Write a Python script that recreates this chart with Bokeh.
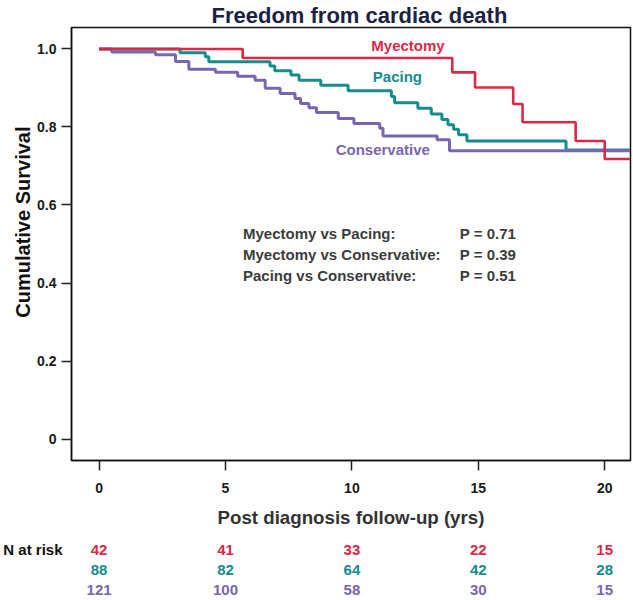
from bokeh.plotting import figure
from bokeh.models import Range1d, FixedTicker, Title
from bokeh.layouts import column
from bokeh.core.properties import value
from bokeh.embed import file_html
from bokeh.resources import INLINE

# ---------------- data ----------------
groups = ["Myectomy", "Pacing", "Conservative"]

myectomy_t = [0, 5.68, 13.97, 14.87, 16.38, 16.75, 18.85, 20.0, 21.0]
myectomy_s = [1.0, 0.977, 0.940, 0.901, 0.859, 0.812, 0.764, 0.718, 0.718]

pacing_t = [0, 3.2, 4.2, 4.34, 6.76, 6.95, 7.59, 7.91, 8.77, 9.85, 11.56, 11.69,
            12.61, 13.14, 13.56, 13.80, 14.02, 14.22, 14.55, 18.47, 21.0]
pacing_s = [1.0, 0.990, 0.980, 0.967, 0.956, 0.944, 0.933, 0.920, 0.907, 0.893,
            0.878, 0.862, 0.848, 0.833, 0.819, 0.806, 0.794, 0.780, 0.764, 0.741, 0.741]

conservative_t = [0, 0.50, 2.23, 3.02, 3.55, 4.60, 5.48, 6.17, 6.57, 7.16, 7.75,
                  7.97, 8.30, 8.60, 9.46, 10.08, 11.10, 11.23, 13.37, 13.86, 21.0]
conservative_s = [1.0, 0.992, 0.985, 0.968, 0.948, 0.940, 0.930, 0.920, 0.899, 0.886,
                  0.873, 0.860, 0.849, 0.837, 0.822, 0.809, 0.797, 0.777, 0.767, 0.739, 0.739]

risk_times = [0, 5, 10, 15, 20]
risk_myectomy = [42, 41, 33, 22, 15]
risk_pacing = [88, 82, 64, 42, 28]
risk_conservative = [121, 100, 58, 30, 15]

comparisons = ["Myectomy vs Pacing:", "Myectomy vs Conservative:", "Pacing vs Conservative:"]
p_values = [0.71, 0.39, 0.51]

x_ticks = [0, 5, 10, 15, 20]
y_ticks = [0, 0.2, 0.4, 0.6, 0.8, 1.0]
y_tick_labels = ["0", "0.2", "0.4", "0.6", "0.8", "1.0"]

# ---------------- style / layout constants ----------------
colors = ["#dc2846", "#178c8c", "#7866b0"]
widths = [2.6, 3, 3]
FONT = "Liberation Sans"
W = 633
H_MAIN = 530
H_TAB = 70
BL, BR = 69, 3
X0, X1 = -1.092, 21.02

label_x = [12.22, 11.8, 11.22]
label_y = [1.01, 0.929, 0.742]
cmp_x, pv_x = 5.69, 14.27
cmp_y = [0.527, 0.473, 0.420]

# ---------------- main plot ----------------
p = figure(width=W, height=H_MAIN, x_range=Range1d(X0, X1), y_range=Range1d(-0.055, 1.055),
           output_backend="svg", toolbar_location=None,
           min_border_left=BL, min_border_right=BR, min_border_top=0, min_border_bottom=0)
p.title.text = "Freedom from cardiac death"
p.title.text_font = FONT
p.title.text_font_size = "22px"
p.title.text_font_style = "bold"
p.title.text_color = "#1b2242"
p.title.align = "left"
p.title.offset = 140
p.title.standoff = 0
p.title.text_line_height = 1.0

p.grid.visible = False
p.outline_line_color = "#111111"
p.outline_line_width = 1.5
p.background_fill_color = "white"
p.border_fill_color = "white"

p.xaxis.ticker = FixedTicker(ticks=x_ticks)
p.yaxis.ticker = FixedTicker(ticks=y_ticks)
p.yaxis.major_label_overrides = dict(zip(y_ticks, y_tick_labels))
for ax in (p.xaxis[0], p.yaxis[0]):
    ax.major_tick_out = 10
    ax.major_tick_in = 0
    ax.minor_tick_out = 0
    ax.minor_tick_in = 0
    ax.major_tick_line_width = 1.5
    ax.major_tick_line_color = "#222222"
    ax.axis_line_width = 1.5
    ax.axis_line_color = "#111111"
    ax.major_label_text_font = FONT
    ax.major_label_text_font_size = "14px"
    ax.major_label_text_font_style = "bold"
    ax.major_label_text_color = "#1a1a1a"
p.xaxis.major_label_standoff = 12
p.yaxis.major_label_standoff = 5
p.xaxis.axis_label = "Post diagnosis follow-up (yrs)"
p.xaxis.axis_label_text_font = FONT
p.xaxis.axis_label_text_font_size = "18.7px"
p.xaxis.axis_label_text_font_style = "bold"
p.xaxis.axis_label_text_color = "#333333"
p.xaxis.axis_label_standoff = 11

ylab = Title(text="Cumulative Survival", align="right", offset=99, text_font=FONT,
             text_font_size="20px", text_font_style="bold", text_color="#111111", standoff=2)
p.add_layout(ylab, "left")

series = [(pacing_t, pacing_s, 1), (conservative_t, conservative_s, 2), (myectomy_t, myectomy_s, 0)]
for t_, s_, i in series:
    p.step(t_, s_, mode="after", line_color=colors[i], line_width=widths[i])

p.text(x=label_x, y=label_y, text=groups, text_color=colors, text_align="center",
       text_baseline="middle", text_font=value(FONT), text_font_style="bold", text_font_size="15px")

p.text(x=[cmp_x] * 3, y=cmp_y, text=comparisons, text_color="#3c3c3c", text_align="left",
       text_baseline="alphabetic", text_font=value(FONT), text_font_style="bold", text_font_size="15px")
p.text(x=[pv_x] * 3, y=cmp_y, text=["P = %.2f" % v for v in p_values], text_color="#3c3c3c",
       text_align="left", text_baseline="alphabetic", text_font=value(FONT),
       text_font_style="bold", text_font_size="15px")

# ---------------- number-at-risk table (frames aligned by the column layout) ----------------
t = figure(width=W, height=H_TAB, x_range=p.x_range, y_range=Range1d(2.494, -0.963),
           output_backend="svg", toolbar_location=None, x_axis_location=None,
           y_axis_location="left", min_border_left=BL, min_border_right=BR,
           min_border_top=0, min_border_bottom=0)
t.grid.visible = False
t.outline_line_color = None
t.background_fill_color = "white"
t.border_fill_color = "white"
t.yaxis.ticker = FixedTicker(ticks=[0])
t.yaxis.major_label_overrides = {0: "N at risk"}
t.yaxis.axis_line_color = None
t.yaxis.major_tick_line_color = None
t.yaxis.minor_tick_line_color = None
t.yaxis.major_tick_out = 0
t.yaxis.major_tick_in = 0
t.yaxis.major_label_standoff = 9
t.yaxis.major_label_text_font = FONT
t.yaxis.major_label_text_font_size = "15px"
t.yaxis.major_label_text_font_style = "bold"
t.yaxis.major_label_text_color = "#111111"

for i, counts in enumerate([risk_myectomy, risk_pacing, risk_conservative]):
    t.text(x=risk_times, y=[i] * len(risk_times), text=[str(n) for n in counts],
           text_color=colors[i], text_align="center", text_baseline="middle",
           text_font=value(FONT), text_font_style="bold", text_font_size="15px")

layout = column(p, t, spacing=0)
open("out.html", "w").write(file_html(layout, INLINE))
